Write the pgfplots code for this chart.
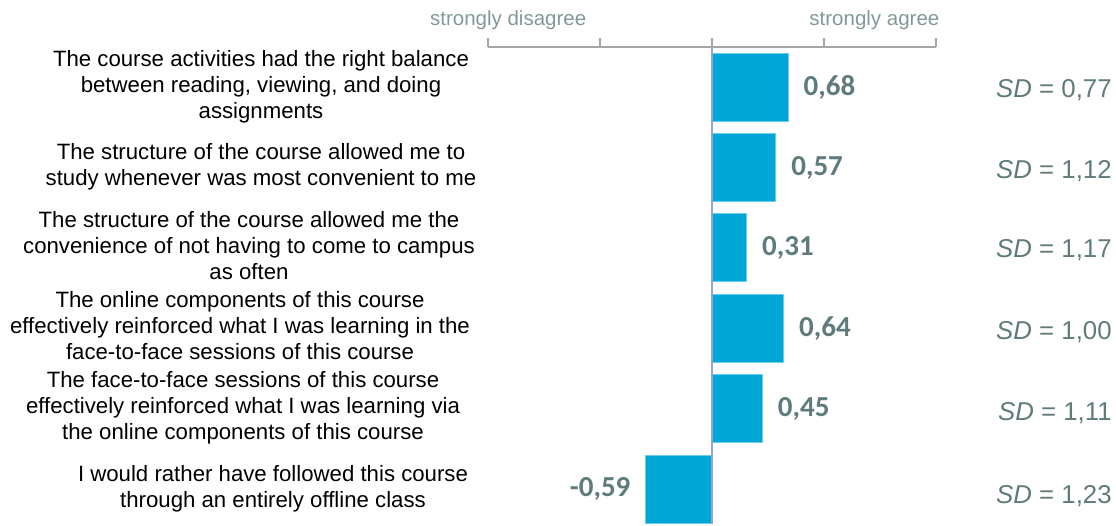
\documentclass[border=0pt]{standalone}
\usepackage{pgfplots}
\pgfplotsset{compat=1.18}
\usepackage{fontspec}
\setmainfont{Liberation Sans}
\newfontfamily\valfont{Carlito}
\definecolor{barblue}{HTML}{00A6D6}
\definecolor{baredge}{HTML}{6CCBEE}
\definecolor{valgray}{HTML}{5F7B7B}
\definecolor{axgray}{HTML}{A6A6A6}
\definecolor{zeroline}{HTML}{8FA8C8}
\definecolor{anchorgray}{HTML}{839999}
\newcommand\lbl[2]{\hspace*{#1}\begin{tabular}{@{}c@{}}#2\end{tabular}}
\begin{document}
\begin{tikzpicture}[x=1pt,y=1pt]
\begin{axis}[
  at={(488pt,-47pt)}, anchor=north west,
  scale only axis, width=448pt, height=477pt,
  xmin=-2, xmax=2, ymin=-0.435, ymax=5.5,
  xbar, bar width=0.846,
  axis x line*=top, axis y line*=left,
  y axis line style={draw=none},
  x axis line style={axgray, line width=1.3pt, -},
  xtick={-2,-1,0,1,2}, xticklabels={},
  xtick style={axgray, line width=1.3pt},
  tick align=outside, major tick length=9pt,
  ytick={0,1,2,3,4,5}, ytick style={draw=none},
  yticklabels={
    {\lbl{66pt}{I would rather have followed this course\\through an entirely offline class}},
    {\lbl{6pt}{The face-to-face sessions of this course\\effectively reinforced what I was learning via\\the online components of this course}},
    {\lbl{0pt}{The online components of this course\\effectively reinforced what I was learning in the\\face-to-face sessions of this course}},
    {\lbl{18pt}{The structure of the course allowed me the\\convenience of not having to come to campus\\as often}},
    {\lbl{42pt}{The structure of the course allowed me to\\study whenever was most convenient to me}},
    {\lbl{42pt}{The course activities had the right balance\\between reading, viewing, and doing\\assignments}}
  },
  yticklabel style={anchor=center, xshift=-239pt, font=\fontsize{22.2}{26}\selectfont, text=black},
  clip=false,
  nodes near coords, nodes near coords align=horizontal,
  point meta=x,
  /pgf/number format/use comma,
  /pgf/number format/fixed,
  /pgf/number format/fixed zerofill,
  /pgf/number format/precision=2,
  /pgf/number format/assume math mode=true,
  every node near coord/.append style={font=\valfont\bfseries\fontsize{29}{30}\selectfont, text=valgray, inner xsep=15pt},
]
\addplot[fill=barblue, draw=baredge, line width=1pt] coordinates {
  (0.68,5) (0.57,4) (0.31,3) (0.64,2) (0.45,1) (-0.59,0)
};
\draw[zeroline, line width=1.5pt] (axis cs:0,-0.435) -- (axis cs:0,5.5);
\node[anchor=center, text=anchorgray, font=\fontsize{20.5}{24}\selectfont] at (axis cs:-1.82,5.5) [yshift=27pt] {strongly disagree};
\node[anchor=center, text=anchorgray, font=\fontsize{20.5}{24}\selectfont] at (axis cs:1.45,5.5) [yshift=27pt] {strongly agree};
\begin{scope}[every node/.style={anchor=east, inner sep=0pt, text=valgray, font=\fontsize{25.8}{30}\selectfont}]
\node at (axis cs:3.57,4.96) {\textit{SD} = 0,77};
\node at (axis cs:3.57,3.96) {\textit{SD} = 1,12};
\node at (axis cs:3.57,2.97) {\textit{SD} = 1,17};
\node at (axis cs:3.57,1.95) {\textit{SD} = 1,00};
\node at (axis cs:3.57,0.94) {\textit{SD} = 1,11};
\node at (axis cs:3.57,-0.09) {\textit{SD} = 1,23};
\end{scope}
\end{axis}
\pgfresetboundingbox
\useasboundingbox (0,0) rectangle (1116,-525);
\end{tikzpicture}
\end{document}
